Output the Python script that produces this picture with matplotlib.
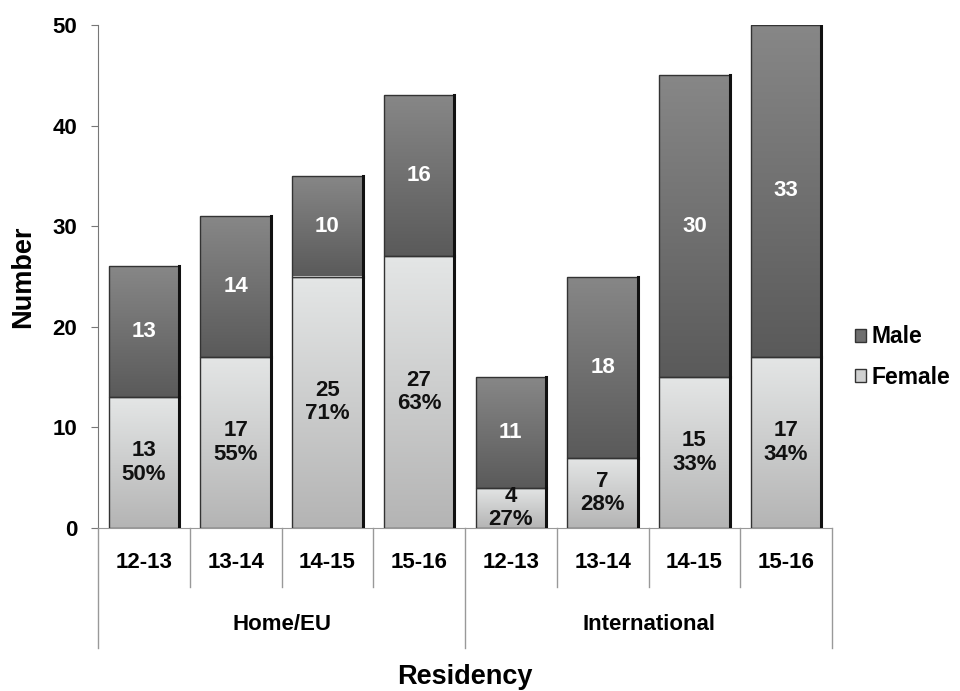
import numpy as np
import matplotlib.pyplot as plt
from matplotlib.patches import Patch
from matplotlib.colors import LinearSegmentedColormap
from matplotlib.transforms import blended_transform_factory

plt.rcParams['font.family'] = ['Liberation Sans', 'DejaVu Sans']
plt.rcParams['font.weight'] = 'bold'

years = ['12-13', '13-14', '14-15', '15-16', '12-13', '13-14', '14-15', '15-16']
groups = ['Home/EU', 'International']
female = [13, 17, 25, 27, 4, 7, 15, 17]
male = [13, 14, 10, 16, 11, 18, 30, 33]
female_pct = ['50%', '55%', '71%', '63%', '27%', '28%', '33%', '34%']

fig = plt.figure(figsize=(9.6, 6.91), dpi=100)
ax = fig.add_axes([98/960, 163/691, 734/960, 503/691])

x = np.arange(len(years))
w = 0.77
grad = np.linspace(0, 1, 256).reshape(-1, 1)
male_cmap = LinearSegmentedColormap.from_list('m', ['#5a5a5a', '#878787'])
fem_cmap = LinearSegmentedColormap.from_list('f', ['#b4b4b4', '#e4e6e6'])

fbars = ax.bar(x, female, w, color='none', edgecolor='#333333', lw=1, zorder=3)
mbars = ax.bar(x, male, w, bottom=female, color='none', edgecolor='#333333', lw=1, zorder=3)

for bars, cmap in [(fbars, fem_cmap), (mbars, male_cmap)]:
    for b in bars:
        x0, y0 = b.get_x(), b.get_y()
        im = ax.imshow(grad, cmap=cmap, aspect='auto', origin='lower',
                       extent=[x0, x0 + b.get_width(), y0, y0 + b.get_height()], zorder=2)
        im.set_clip_path(b)
        ax.plot([x0 + b.get_width()] * 2, [y0, y0 + b.get_height()], color='#111111', lw=2.2, zorder=4)

for i in range(len(x)):
    ax.text(x[i], female[i] / 2, f'{female[i]}\n{female_pct[i]}', ha='center', va='center',
            fontsize=16, fontweight='bold', color='#111111', linespacing=1.15, zorder=5)
    ax.text(x[i], female[i] + male[i] / 2, str(male[i]), ha='center', va='center',
            fontsize=16, fontweight='bold', color='white', zorder=5)

ax.set_xlim(-0.5, 7.5)
ax.set_ylim(0, 50)
ax.set_yticks(range(0, 51, 10))
ax.set_xticks([])
for s in ['top', 'right']:
    ax.spines[s].set_visible(False)
ax.spines['left'].set_color('#777777')
ax.spines['bottom'].set_color('#999999')
ax.tick_params(axis='y', length=5, color='#777777', labelsize=16, pad=10)
for lab in ax.get_yticklabels():
    lab.set_fontweight('bold')
ax.set_ylabel('Number', fontsize=19.5, fontweight='bold', labelpad=12)

tr = blended_transform_factory(ax.transData, ax.transAxes)
for i, yr in enumerate(years):
    ax.text(x[i], -34/503, yr, transform=tr, ha='center', va='center', fontsize=16, fontweight='bold')
for b in np.arange(0.5, 7, 1):
    if b == 3.5:
        continue
    ax.plot([b, b], [0, -59/503], transform=tr, color='#999999', lw=1, clip_on=False)
for b in [-0.5, 3.5, 7.5]:
    ax.plot([b, b], [0, -120/503], transform=tr, color='#999999', lw=1, clip_on=False)
for g, gx in zip(groups, [1.5, 5.5]):
    ax.text(gx, -97/503, g, transform=tr, ha='center', va='center', fontsize=16, fontweight='bold')
ax.text(0.5, -149/503, 'Residency', transform=ax.transAxes, ha='center', va='center',
        fontsize=19.5, fontweight='bold')

handles = [Patch(facecolor='#6e6e6e', edgecolor='#333333', label='Male'),
           Patch(facecolor='#cfd0d0', edgecolor='#333333', label='Female')]
fig.legend(handles=handles, loc='center left', bbox_to_anchor=(855/960, 1 - 357/691),
           frameon=False, prop={'size': 16.5, 'weight': 'bold'}, handlelength=0.5, handleheight=0.5,
           handletextpad=0.2, labelspacing=0.75, borderpad=0, borderaxespad=0)

fig.savefig('out.png', dpi=100)
